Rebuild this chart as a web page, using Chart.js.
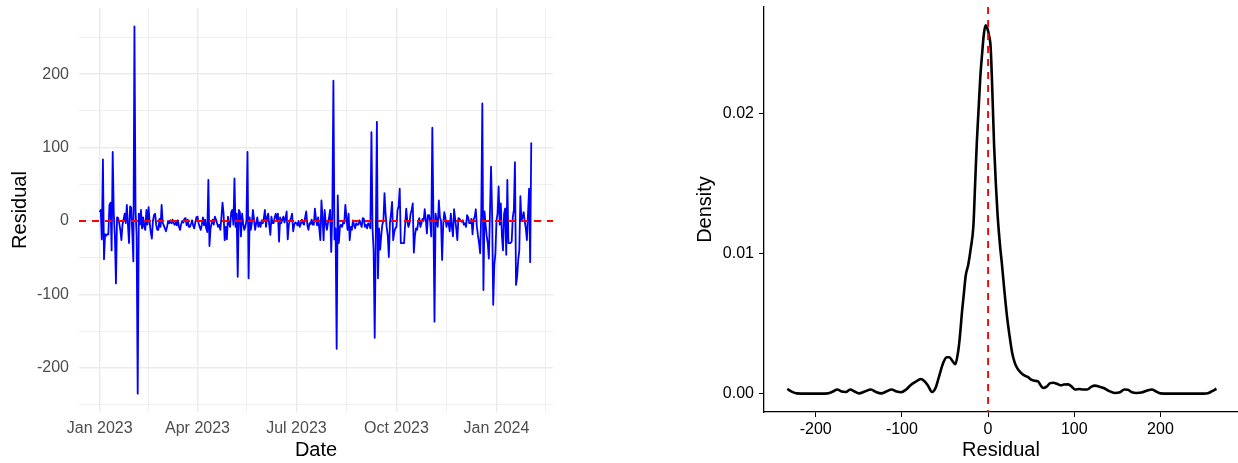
<!DOCTYPE html>
<html>
<head>
<meta charset="utf-8">
<script src="https://cdn.jsdelivr.net/npm/chart.js@4.4.1/dist/chart.umd.min.js"></script>
<style>
  html, body { margin: 0; padding: 0; background: #fff; }
  #wrap { position: relative; width: 1238px; height: 463px; overflow: hidden; }
  #left { position: absolute; left: 0; top: 0; }
  #right { position: absolute; left: 680px; top: 0; }
</style>
</head>
<body>
<div id="wrap">
  <canvas id="left" width="600" height="463"></canvas>
  <canvas id="right" width="558" height="463"></canvas>
</div>
<script>
// daily residuals starting 2023-01-01 (day 0)
var residuals = [
  12, 15, -25, 84, -52, -18, -20, -18, -18, 22,
  25, -40, 94, 10, -20, -85, 5, 4, -3, -12,
  -26, -5, 2, 10, -3, 22, -5, -30, 20, 18,
  -15, -55, 265, 15, -20, -235, 10, -5, 15, -10,
  5, -8, -12, 15, -5, 19, -2, -15, -24, 0,
  8, 10, -5, -12, -12, 3, -8, 22, -3, -6,
  -10, -14, -8, 0, -3, 1, -3, 2, -3, -5,
  -2, -6, 1, -8, -12, -4, 0, -2, 3, 4,
  -6, 2, -8, -8, -4, 1, -6, -10, -2, 5,
  6, -3, -8, -12, -5, 5, -6, 2, -10, -15,
  56, -34, -10, -3, 2, -5, 6, 2, -3, -8,
  -5, -12, 5, 25, 10, -26, -8, -25, 6, -4,
  -8, 12, 15, -5, 58, -8, 10, -76, 15, 12,
  -21, 10, -3, -12, -8, 0, 94, -78, 5, -12,
  -3, 15, 2, -12, -3, 5, -8, -2, -8, 1,
  -3, 4, 15, -8, 5, 10, -5, -19, 6, -3,
  -3, 5, 10, 2, 10, -28, 5, -3, 2, 6,
  -2, 4, 13, -25, -5, 1, 4, 10, -14, -5,
  -2, -3, -6, 0, -8, -4, 2, -3, -5, 5,
  13, -5, -12, -3, -4, 2, -5, -5, 17, 3,
  -6, 5, -10, -26, 28, 5, -26, 15, -3, -12,
  -3, 5, 15, -42, 10, 191, -25, -10, -174, 35,
  -30, -8, -5, -8, -2, -3, 22, 5, -12, 10,
  -26, -8, -12, 1, -5, -10, -3, -5, -5, 1,
  -3, -8, 4, 3, -8, -5, -10, -3, -5, -10,
  121, -10, -40, -159, -20, 135, -78, -10, -39, -20,
  -5, 0, 38, 10, -8, -20, -49, -3, 10, 26,
  -26, -15, -10, -8, 15, 20, 44, -30, -30, -30,
  -30, -5, 17, 0, -8, -3, 10, 15, 24, -43,
  -20, -10, -12, -2, 4, -8, -3, 3, 0, 16,
  2, -17, 8, 8, 0, -21, 127, 8, -137, 10,
  0, -8, 28, 5, 0, -53, -5, 12, 5, -8,
  0, -3, -14, 10, -8, -21, 16, 3, -10, -26,
  4, 3, 0, -1, 1, -5, -3, -8, 8, 5,
  -3, -3, 3, -18, 2, 6, 16, -8, -20, -30,
  -44, 10, 160, -94, 13, -5, -20, -30, -51, 10,
  74, 10, -114, -60, -44, 0, 10, 47, -5, 24,
  -20, -40, 10, 17, -46, 56, -30, -30, -30, -28,
  5, 15, 80, -87, -76, -53, -40, 34, 0, 5,
  12, 0, -10, -26, 10, 44, -56, 107
];

var dateTickDays = [0, 90, 181, 273, 365];
var dateTickLabels = ["Jan 2023", "Apr 2023", "Jul 2023", "Oct 2023", "Jan 2024"];
var dateMinorDays = [45, 135.5, 227, 319, 410];
var residTicks = [-200, -100, 0, 100, 200];
var residMinor = [-250, -150, -50, 50, 150, 250];

var densityX = [-233, -228, -222, -210, -195, -186, -180, -175, -170, -165,
  -160, -155, -150, -143, -136, -130, -124, -118, -112, -106,
  -101, -95, -90, -84, -78, -74, -70, -65, -61, -57,
  -52, -48, -45, -41, -38, -35, -33, -30, -28, -26,
  -23, -20, -17, -15, -13, -11, -9, -7, -5, -3,
  -1, 1, 3, 5, 7, 9, 11, 14, 16, 19,
  22, 25, 28, 31, 34, 38, 42, 46, 50, 54,
  58, 61, 64, 68, 72, 76, 80, 84, 88, 93,
  97, 101, 106, 110, 115, 120, 124, 129, 134, 140,
  147, 153, 158, 162, 167, 172, 178, 184, 190, 195,
  200, 210, 230, 250, 255, 260, 265];
var densityY = [0.00034, 0.00015, 0.00002, 0, 0, 0.00002, 0.00015, 0.0003, 0.00015, 0.00012,
  0.0003, 0.00015, 0.00002, 0.00015, 0.0003, 0.00012, 0.00002, 0.00015, 0.0003, 0.00015,
  0.0001, 0.0003, 0.0006, 0.00085, 0.00105, 0.0009, 0.0006, 0.00012, 0.0004, 0.0012,
  0.0022, 0.0026, 0.0026, 0.0023, 0.0021, 0.0029, 0.0039, 0.006, 0.0072, 0.0084,
  0.0092, 0.0104, 0.012, 0.015, 0.018, 0.0203, 0.0226, 0.0242, 0.0256, 0.0263,
  0.0261, 0.0256, 0.0247, 0.0215, 0.0177, 0.015, 0.0128, 0.0105, 0.0093, 0.0073,
  0.0055, 0.0041, 0.0029, 0.0022, 0.0018, 0.0015, 0.0013, 0.0012, 0.001, 0.00092,
  0.00088, 0.0006, 0.0004, 0.0005, 0.00075, 0.00078, 0.0007, 0.0006, 0.00065, 0.00066,
  0.0005, 0.0003, 0.00033, 0.0003, 0.0003, 0.0005, 0.00057, 0.0005, 0.0004, 0.0002,
  0.00005, 0.0001, 0.0003, 0.00028, 0.0001, 0.00005, 0.00008, 0.0002, 0.0003, 0.00015,
  0.00002, 0, 0, 0, 0.00003, 0.00018, 0.00035];
var densXTicks = [-200, -100, 0, 100, 200];
var densYTicks = [0, 0.01, 0.02];
var densYLabels = ["0.00", "0.01", "0.02"];

Chart.defaults.font.family = "'Liberation Sans', Arial, sans-serif";
Chart.defaults.animation = false;

// dashed red reference line at value 0
const refLine = {
  id: "refLine",
  afterDatasetsDraw(chart, args, opts) {
    const { ctx, chartArea: a, scales } = chart;
    ctx.save();
    ctx.strokeStyle = "#FF0000";
    ctx.lineWidth = 1.9;
    ctx.setLineDash([7, 6]);
    ctx.beginPath();
    if (opts.axis === "y") {
      const y = scales.y.getPixelForValue(opts.value);
      ctx.moveTo(a.left, y);
      ctx.lineTo(a.right, y);
    } else {
      const x = scales.x.getPixelForValue(opts.value);
      ctx.moveTo(x, a.top);
      ctx.lineTo(x, a.bottom);
    }
    ctx.stroke();
    ctx.restore();
  }
};

// fixed axis boxes, no label overhang padding
function fitY(w) {
  return s => { s.width = w; s.paddingTop = 0; s.paddingBottom = 0; };
}
function fitX(h) {
  return s => { s.height = h; s.paddingLeft = 0; s.paddingRight = 0; };
}

const pts = residuals.map((v, i) => ({ x: i, y: v }));
const allX = dateTickDays.concat(dateMinorDays).sort((a, b) => a - b);
const allY = residTicks.concat(residMinor).sort((a, b) => a - b);

new Chart(document.getElementById("left"), {
  type: "scatter",
  data: {
    datasets: [{
      data: pts,
      showLine: true,
      borderColor: "#0000FF",
      borderWidth: 1.8,
      borderJoinStyle: "round",
      pointRadius: 0,
      tension: 0
    }]
  },
  plugins: [refLine],
  options: {
    responsive: false,
    layout: { padding: { top: 8, right: 47, left: 0, bottom: 0 } },
    plugins: { legend: { display: false }, tooltip: { enabled: false }, refLine: { axis: "y", value: 0 } },
    scales: {
      x: {
        type: "linear", min: -19, max: 417,
        afterBuildTicks: s => { s.ticks = allX.map(v => ({ value: v })); },
        afterFit: fitX(51),
        grid: {
          color: "#EBEBEB",
          lineWidth: c => dateTickDays.includes(c.tick.value) ? 1.5 : 0.8,
          drawTicks: false
        },
        border: { display: false },
        ticks: {
          autoSkip: false, maxRotation: 0, padding: 7, color: "#4D4D4D", font: { size: 16 },
          callback: v => { const i = dateTickDays.indexOf(v); return i >= 0 ? dateTickLabels[i] : ""; }
        },
        title: { display: true, text: "Date", color: "#000", font: { size: 20 }, padding: { top: 0, bottom: 1 } }
      },
      y: {
        type: "linear", min: -260, max: 290,
        afterBuildTicks: s => { s.ticks = allY.map(v => ({ value: v })); },
        afterFit: fitY(79),
        grid: {
          color: "#EBEBEB",
          lineWidth: c => residTicks.includes(c.tick.value) ? 1.5 : 0.8,
          drawTicks: false
        },
        border: { display: false },
        ticks: {
          autoSkip: false, padding: 10, color: "#4D4D4D", font: { size: 16 },
          callback: v => residTicks.includes(v) ? String(v) : ""
        },
        title: { display: true, text: "Residual", color: "#000", font: { size: 20 }, padding: { top: 8, bottom: 0 } }
      }
    }
  }
});

const dens = densityX.map((x, i) => ({ x: x, y: densityY[i] }));

new Chart(document.getElementById("right"), {
  type: "scatter",
  data: {
    datasets: [{
      data: dens,
      showLine: true,
      borderColor: "#000000",
      borderWidth: 2.6,
      pointRadius: 0,
      cubicInterpolationMode: "monotone"
    }]
  },
  plugins: [refLine],
  options: {
    responsive: false,
    layout: { padding: { top: 7, right: 0, left: 0, bottom: 0 } },
    plugins: { legend: { display: false }, tooltip: { enabled: false }, refLine: { axis: "x", value: 0 } },
    scales: {
      x: {
        type: "linear", min: -260, max: 290,
        afterBuildTicks: s => { s.ticks = densXTicks.map(v => ({ value: v })); },
        afterFit: fitX(51),
        grid: { drawOnChartArea: false, drawTicks: true, tickLength: 5, color: "#000", lineWidth: 1 },
        border: { display: true, color: "#000", width: 1.3 },
        ticks: { autoSkip: false, maxRotation: 0, padding: 3, color: "#000", font: { size: 16 },
          callback: v => String(v) },
        title: { display: true, text: "Residual", color: "#000", font: { size: 20 }, padding: { top: 0, bottom: 1 } }
      },
      y: {
        type: "linear", min: -0.00131, max: 0.0276,
        afterBuildTicks: s => { s.ticks = densYTicks.map(v => ({ value: v })); },
        afterFit: fitY(84),
        grid: { drawOnChartArea: false, drawTicks: true, tickLength: 5, color: "#000", lineWidth: 1 },
        border: { display: true, color: "#000", width: 1.3 },
        ticks: { autoSkip: false, padding: 5, color: "#000", font: { size: 16 },
          callback: v => { const i = densYTicks.indexOf(v); return i >= 0 ? densYLabels[i] : ""; } },
        title: { display: true, text: "Density", color: "#000", font: { size: 20 }, padding: { top: 13, bottom: 0 } }
      }
    }
  }
});
</script>
</body>
</html>
